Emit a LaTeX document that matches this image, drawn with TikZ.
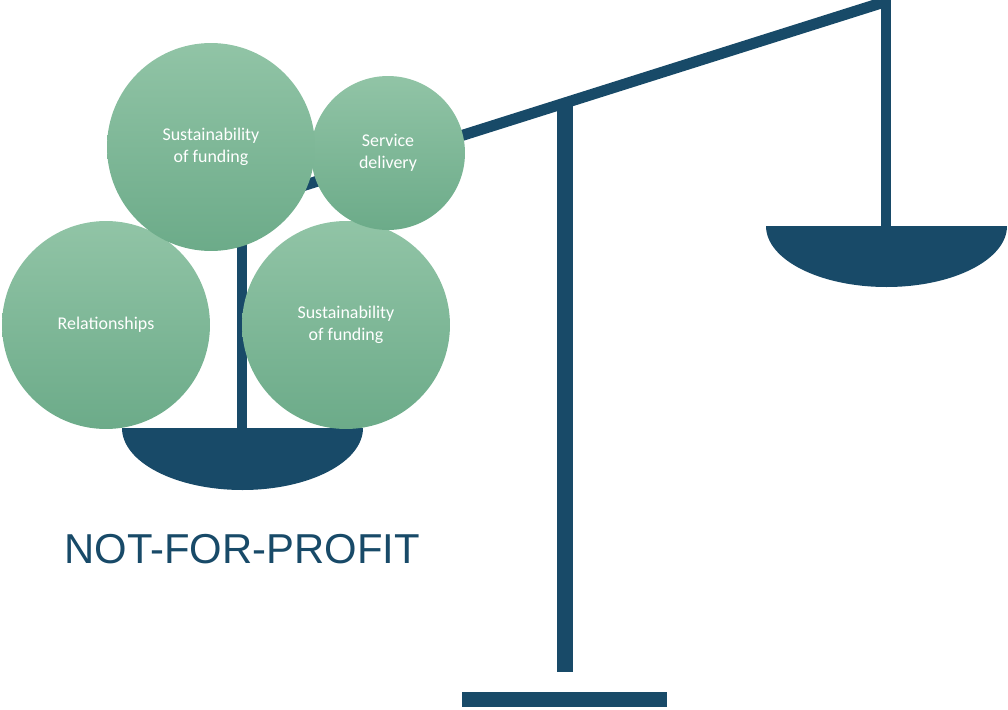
\documentclass[tikz,border=0pt]{standalone}
\usepackage{fontspec}
\setmainfont{Carlito}
\newfontfamily\labelfont{Liberation Sans}
\definecolor{navy}{RGB}{24,74,104}
\definecolor{gtop}{RGB}{145,196,166}
\definecolor{gbot}{RGB}{108,171,137}
\begin{document}
\begin{tikzpicture}[x=0.02cm,y=-0.02cm,
  ball/.style={circle, inner sep=0pt, top color=gtop, bottom color=gbot, draw=none,
    text=white, align=center, font=\fontsize{10.2}{12.5}\selectfont},
  bigball/.style={ball, minimum size=4.16cm},
  smallball/.style={ball, minimum size=3.08cm},
  bar/.style={fill=navy, draw=none}]
\useasboundingbox (0,0) rectangle (1008,710);
% named anchor points
\coordinate (beamL) at (242,205);
\coordinate (beamR) at (886,1.5);
\coordinate (pivot) at (565,103);
\coordinate (postbot) at (565,672);
\coordinate (panL) at (242,428);
\coordinate (panR) at (886,226);
% beam
\draw[navy, line width=0.22cm] (beamL) -- (beamR);
% central post
\draw[navy, line width=0.32cm] (pivot) -- (postbot);
% base
\fill[navy] (462,692) rectangle (667,707);
% hanging posts
\draw[navy, line width=0.2cm] (beamL) -- (panL);
\draw[navy, line width=0.2cm] (886,0) -- (panR);
% pans
\fill[navy] (122,428) -- (363,428) arc[start angle=0, end angle=180, x radius=120.5, y radius=62] -- cycle;
\fill[navy] (766,226) -- (1007,226) arc[start angle=0, end angle=180, x radius=120.5, y radius=61] -- cycle;
% circles
\node[bigball] (rel) at (106,325) {Relationships};
\node[bigball] (sus2) at (346,325) {Sustainability\\of funding};
\node[smallball] (serv) at (388,153) {Service\\delivery};
\node[bigball] (sus1) at (211,147) {Sustainability\\of funding};
% label
\node[anchor=base west, inner sep=0pt, text=navy, font=\labelfont\fontsize{23.8}{28}\selectfont] (nfp) at (64,563) {NOT-FOR-PROFIT};
\end{tikzpicture}
\end{document}
